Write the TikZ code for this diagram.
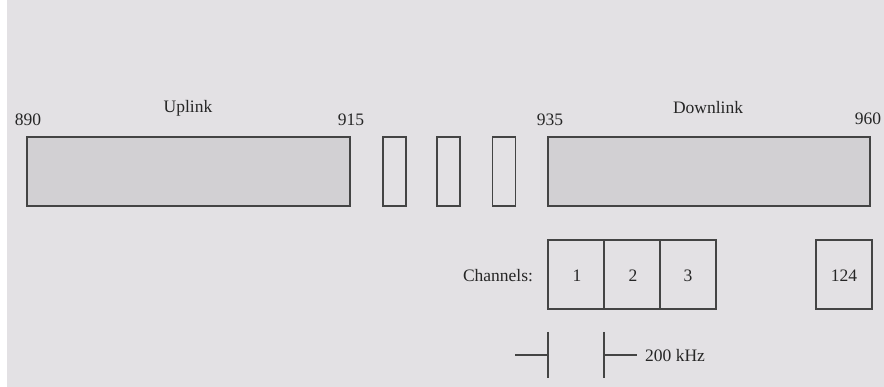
\documentclass[tikz,border=0pt]{standalone}
\usepackage{fontspec}
\setmainfont{Liberation Serif}
\definecolor{bg}{HTML}{E3E1E4}
\definecolor{bandfill}{HTML}{D2D0D3}
\definecolor{ln}{HTML}{444444}
\definecolor{tx}{HTML}{262626}
\begin{document}
\begin{tikzpicture}[x=1pt,y=-1pt,
  every node/.append style={font=\fontsize{17.5}{20}\selectfont, text=tx},
  band/.style={draw=ln, line width=1.4pt, fill=bandfill, inner sep=0pt, minimum height=69pt},
  gap/.style={draw=ln, line width=1.4pt, inner sep=0pt, minimum width=23pt, minimum height=69pt},
  chan/.style={draw=ln, line width=1.4pt, inner sep=0pt, minimum width=56pt, minimum height=69pt},
  lbl/.style={anchor=base, inner sep=0pt},
  dim/.style={draw=ln, line width=1.2pt}]
\useasboundingbox (0,0) rectangle (884,387);
\fill[white] (0,0) rectangle (884,387);
\fill[bg] (7,0) rectangle (884,387);
% bands
\node[band, minimum width=323pt] (up) at (188.5,171.5) {};
\node[gap] (g1) at (394.5,171.5) {};
\node[gap] (g2) at (448.5,171.5) {};
\node[gap] (g3) at (504,171.5) {};
\node[band, minimum width=322pt] (down) at (709,171.5) {};
% labels
\node[lbl] (l890) at (28,126) {890};
\node[lbl] (lup) at (188,113) {Uplink};
\node[lbl] (l915) at (351,126) {915};
\node[lbl] (l935) at (550,126) {935};
\node[lbl] (ldown) at (708,114) {Downlink};
\node[lbl] (l960) at (868,125) {960};
% channels
\node[chan] (c1) at (576,274.5) {};
\node[chan] (c2) at (632,274.5) {};
\node[chan] (c3) at (688,274.5) {};
\node[chan] (c124) at (844,274.5) {};
\node[lbl] (n1) at (577,282) {1};
\node[lbl] (n2) at (633,282) {2};
\node[lbl] (n3) at (688,282) {3};
\node[lbl] (n124) at (844,282) {124};
\node[lbl] (chl) at (498,282) {Channels:};
% dimension
\coordinate (v1t) at (548,332);
\coordinate (v1b) at (548,378);
\coordinate (v2t) at (604,332);
\coordinate (v2b) at (604,378);
\coordinate (v1m) at (548,355);
\coordinate (v2m) at (604,355);
\coordinate (h1) at (515,355);
\coordinate (h2) at (637,355);
\draw[dim] (v1t) -- (v1b);
\draw[dim] (v2t) -- (v2b);
\draw[dim] (h1) -- (v1m);
\draw[dim] (v2m) -- (h2);
\node[anchor=base west, inner sep=0pt] (khz) at (645,362) {200 kHz};
\end{tikzpicture}
\end{document}
